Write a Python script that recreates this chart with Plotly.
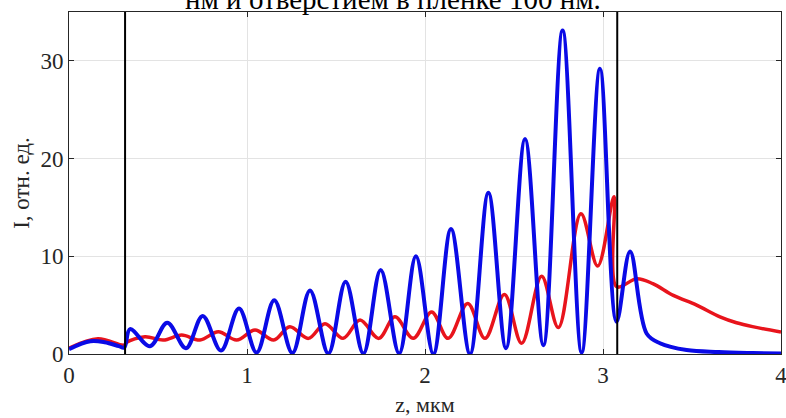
import plotly.graph_objects as go

# ---- data ----
blue_z = [0, 0.12, 0.2, 0.28, 0.31, 0.343, 0.455, 0.552, 0.657, 0.751, 0.854, 0.955,
          1.054, 1.153, 1.255, 1.354, 1.457, 1.554, 1.654, 1.751, 1.855, 1.949, 2.047,
          2.146, 2.253, 2.356, 2.455, 2.562, 2.665, 2.773, 2.88, 2.983, 3.076, 3.152,
          3.245, 3.32, 3.47, 3.65, 3.84, 4.0]
blue_I = [0.5, 1.3, 1.2, 0.8, 0.65, 2.55, 0.8, 3.2, 0.6, 3.9, 0.35, 4.65,
          0.15, 5.5, 0.1, 6.5, 0.05, 7.4, 0.05, 8.6, 0.05, 10.0, 0.0,
          12.8, 0.0, 16.5, 0.6, 22.0, 0.9, 33.1, 0.15, 29.2, 3.3, 10.5,
          2.1, 1.1, 0.4, 0.2, 0.1, 0.05]

red_z = [0, 0.163, 0.31, 0.324, 0.427, 0.53, 0.633, 0.736, 0.839, 0.942, 1.045, 1.15,
         1.24, 1.345, 1.438, 1.54, 1.635, 1.74, 1.831, 1.934, 2.037, 2.13, 2.24, 2.337,
         2.446, 2.543, 2.655, 2.749, 2.876, 2.97, 3.062, 3.076, 3.19, 3.28, 3.395, 3.526,
         3.657, 3.75, 3.84, 4.0]
red_I = [0.6, 1.55, 0.9, 1.2, 1.77, 1.43, 1.94, 1.43, 2.28, 1.43, 2.45, 1.43,
         2.8, 1.6, 3.1, 1.6, 3.47, 1.6, 3.8, 1.6, 4.3, 1.6, 5.17, 1.6,
         6.1, 1.1, 7.96, 2.7, 14.35, 9.0, 16.1, 6.9, 7.7, 7.2, 6.0, 5.0,
         3.8, 3.2, 2.8, 2.25]

boundaries = [0.315, 3.08]

x_ticks = [0, 1, 2, 3, 4]
y_ticks = [0, 10, 20, 30]

title_text = "нм и отверстием в пленке 100 нм."
x_title = "z, мкм"
y_title = "I, отн. ед."

FONT = "Liberation Serif"

fig = go.Figure()
fig.add_trace(go.Scatter(x=red_z, y=red_I, mode="lines",
                         line=dict(color="#e8141c", width=3.5, shape="spline", smoothing=1.0),
                         showlegend=False, hoverinfo="skip"))
fig.add_trace(go.Scatter(x=blue_z, y=blue_I, mode="lines",
                         line=dict(color="#0a0ae6", width=4, shape="spline", smoothing=1.0),
                         showlegend=False, hoverinfo="skip"))

for b in boundaries:
    fig.add_shape(type="line", x0=b, x1=b, y0=0, y1=1, xref="x", yref="paper",
                  line=dict(color="black", width=2))

axis_common = dict(
    showline=True, linecolor="#262626", linewidth=1, mirror="ticks",
    ticks="inside", ticklen=5, tickcolor="#262626",
    showgrid=True, gridcolor="#e3e3e3", gridwidth=1,
    zeroline=False, automargin=False, ticklabeloverflow="allow",
    tickfont=dict(family=FONT, size=23, color="#262626"),
)

fig.update_xaxes(range=[0, 4], tickvals=x_ticks, ticktext=[str(t) for t in x_ticks],
                 title=dict(text=x_title, font=dict(family=FONT, size=22, color="#262626"), standoff=10),
                 **axis_common)
fig.update_yaxes(range=[0, 35], tickvals=y_ticks, ticktext=[str(t) for t in y_ticks],
                 title=dict(text=y_title, font=dict(family=FONT, size=23, color="#262626"), standoff=4),
                 **axis_common)

fig.add_annotation(text=title_text, xref="paper", yref="paper", x=0.455, y=0.986,
                   xanchor="center", yanchor="bottom", showarrow=False,
                   font=dict(family=FONT, size=29, color="black"))

fig.update_layout(
    width=786, height=418,
    margin=dict(l=69, r=5, t=12, b=64),
    paper_bgcolor="white", plot_bgcolor="white",
)

fig.write_html("out.html", config={"displayModeBar": False},
               post_script="document.body.style.margin='0';")
